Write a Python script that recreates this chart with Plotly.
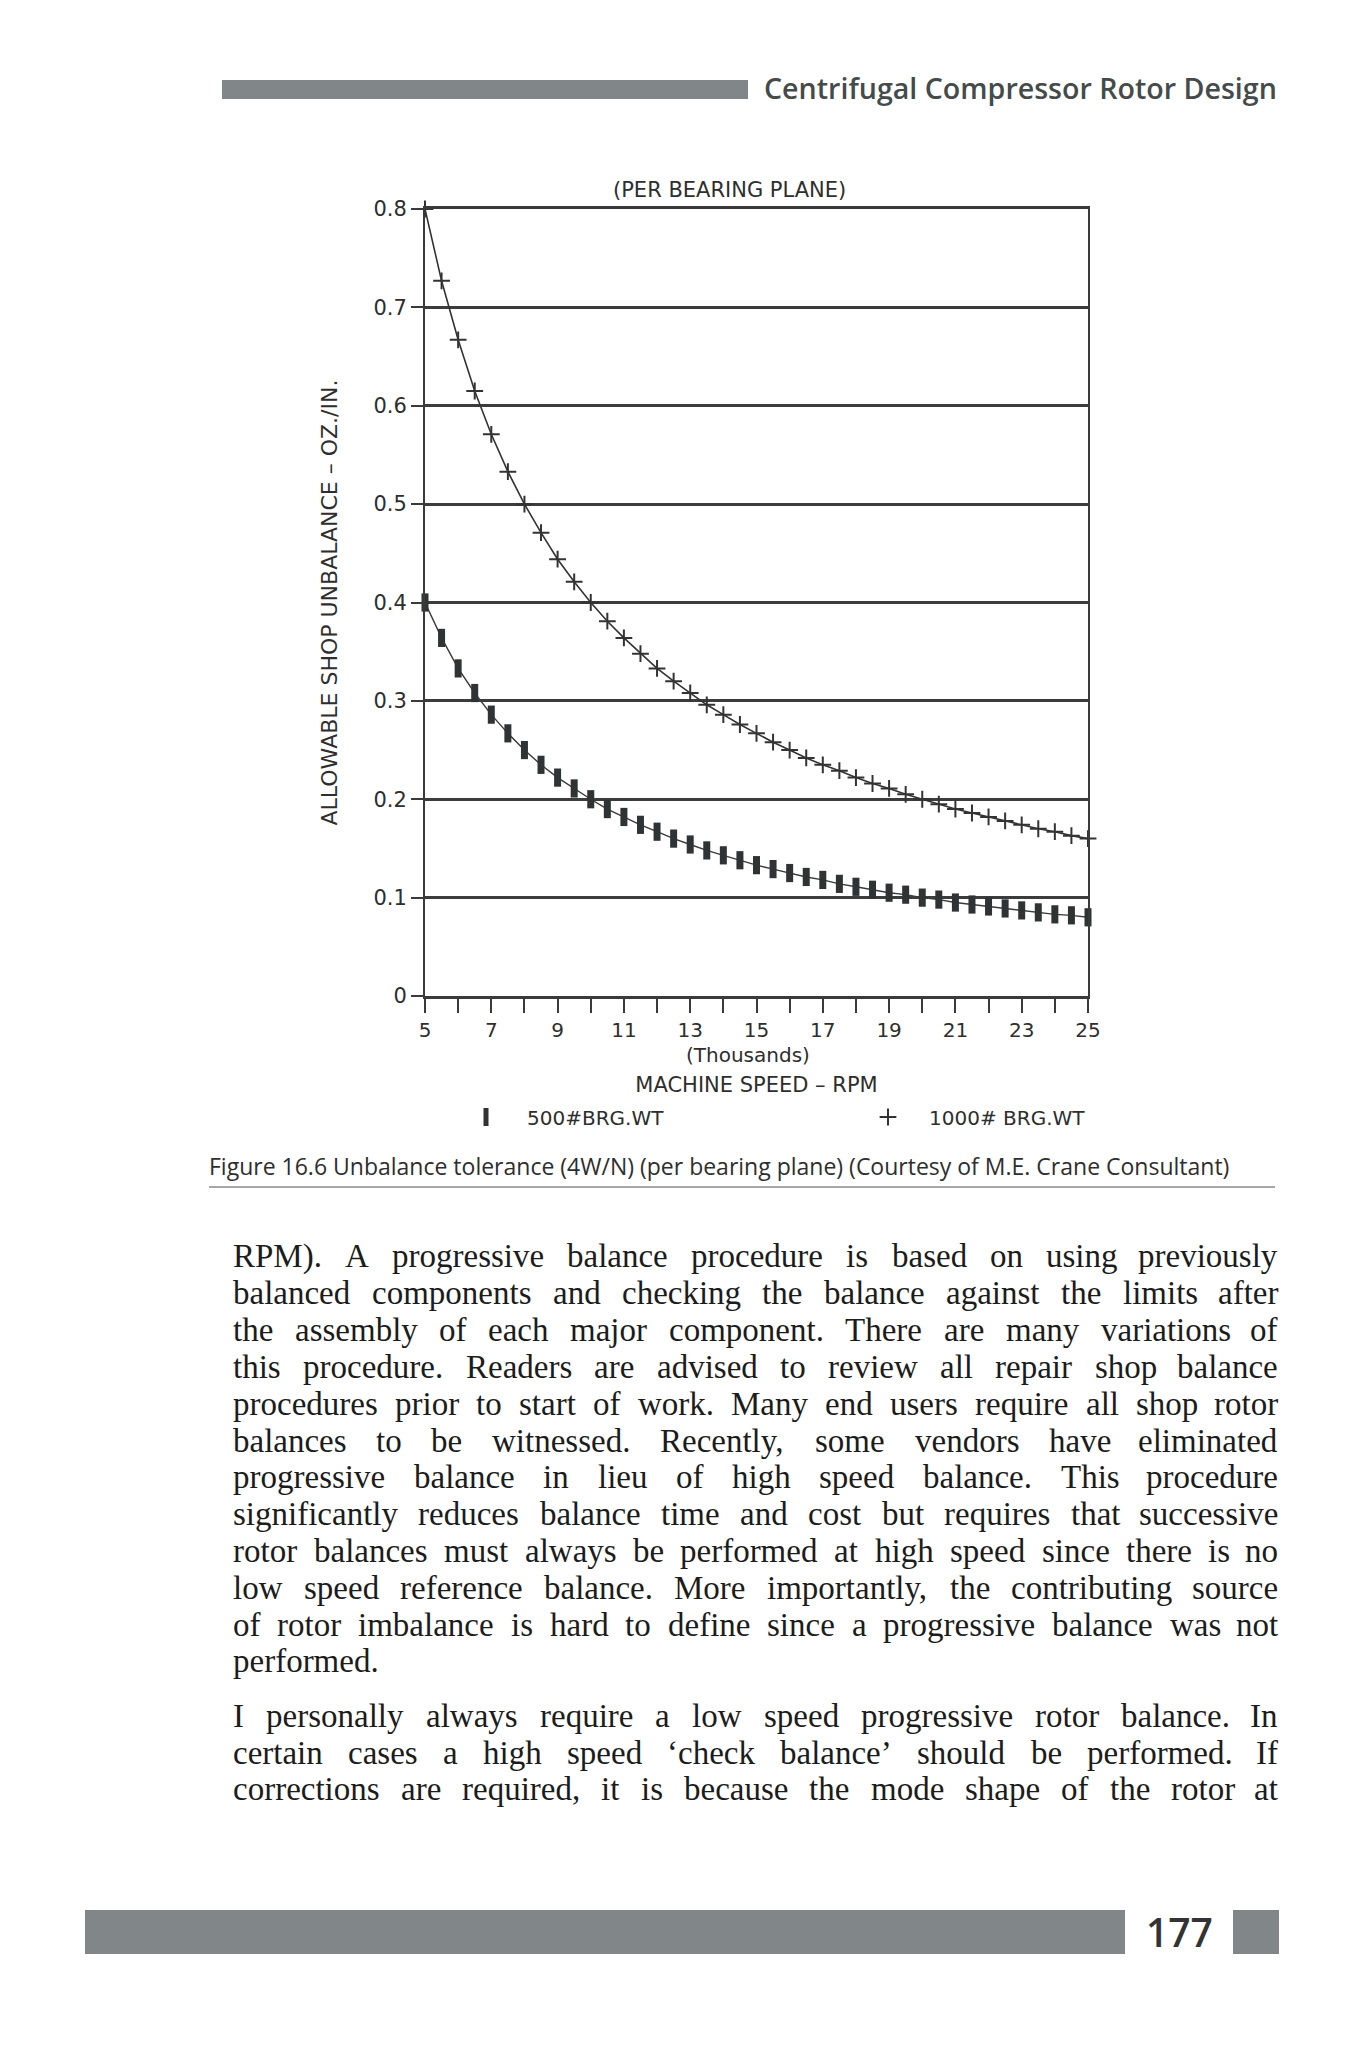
import plotly.graph_objects as go

# ---------------- data ----------------
rpm_thousands = [5.0, 5.5, 6.0, 6.5, 7.0, 7.5, 8.0, 8.5, 9.0, 9.5, 10.0, 10.5, 11.0, 11.5,
                 12.0, 12.5, 13.0, 13.5, 14.0, 14.5, 15.0, 15.5, 16.0, 16.5, 17.0, 17.5,
                 18.0, 18.5, 19.0, 19.5, 20.0, 20.5, 21.0, 21.5, 22.0, 22.5, 23.0, 23.5,
                 24.0, 24.5, 25.0]
unbal_500 = [0.400, 0.364, 0.333, 0.308, 0.286, 0.267, 0.250, 0.235, 0.222, 0.211, 0.200,
             0.190, 0.182, 0.174, 0.167, 0.160, 0.154, 0.148, 0.143, 0.138, 0.133, 0.129,
             0.125, 0.121, 0.118, 0.114, 0.111, 0.108, 0.105, 0.103, 0.100, 0.098, 0.095,
             0.093, 0.091, 0.089, 0.087, 0.085, 0.083, 0.082, 0.080]
unbal_1000 = [0.800, 0.727, 0.667, 0.615, 0.571, 0.533, 0.500, 0.471, 0.444, 0.421, 0.400,
              0.381, 0.364, 0.348, 0.333, 0.320, 0.308, 0.296, 0.286, 0.276, 0.267, 0.258,
              0.250, 0.242, 0.235, 0.229, 0.222, 0.216, 0.211, 0.205, 0.200, 0.195, 0.190,
              0.186, 0.182, 0.178, 0.174, 0.170, 0.167, 0.163, 0.160]
series_names = ["500#BRG.WT", "1000# BRG.WT"]
x_major_ticks = [5, 7, 9, 11, 13, 15, 17, 19, 21, 23, 25]
x_minor_ticks = [6, 8, 10, 12, 14, 16, 18, 20, 22, 24]
y_ticks = [0, 0.1, 0.2, 0.3, 0.4, 0.5, 0.6, 0.7, 0.8]
y_ticktext = ["0", "0.1", "0.2", "0.3", "0.4", "0.5", "0.6", "0.7", "0.8"]

header_title = "Centrifugal Compressor Rotor Design"
chart_subtitle = "(PER BEARING PLANE)"
x_units = "(Thousands)"
x_title = "MACHINE SPEED – RPM"
y_title = "ALLOWABLE SHOP UNBALANCE – OZ./IN."
caption = "Figure 16.6 Unbalance tolerance (4W/N) (per bearing plane) (Courtesy of M.E. Crane Consultant)"
page_number = "177"
paragraphs = [
    ["RPM). A progressive balance procedure is based on using previously",
     "balanced components and checking the balance against the limits after",
     "the assembly of each major component. There are many variations of",
     "this procedure. Readers are advised to review all repair shop balance",
     "procedures prior to start of work. Many end users require all shop rotor",
     "balances to be witnessed. Recently, some vendors have eliminated",
     "progressive balance in lieu of high speed balance. This procedure",
     "significantly reduces balance time and cost but requires that successive",
     "rotor balances must always be performed at high speed since there is no",
     "low speed reference balance. More importantly, the contributing source",
     "of rotor imbalance is hard to define since a progressive balance was not",
     "performed."],
    ["I personally always require a low speed progressive rotor balance. In",
     "certain cases a high speed ‘check balance’ should be performed. If",
     "corrections are required, it is because the mode shape of the rotor at"],
]

# ---------------- page geometry helpers (page pixel coords) ----------------
BODY = 8                      # default <body> margin of the html page
W, H = 1350 - 2 * BODY, 2048 - 2 * BODY
L, R, T, B = 425, 1088, 209, 996   # plot area in page pixels


def px2x(px):
    return (px - L) / (R - L)


def px2y(py):
    return (B - py) / (B - T)


DARK = "#2e2e2e"
LINE = "#3a3a3a"
BARGREY = "#818788"
CHART_FONT = "DejaVu Sans, Verdana, sans-serif"
PAGE_FONT = "Open Sans, Noto Sans, sans-serif"
SERIF = "Liberation Serif, Times New Roman, serif"

fig = go.Figure()

m500 = dict(symbol="line-ns", size=13, color="#2a2a2a", line=dict(width=7, color="#2f3333"))
m1000 = dict(symbol="cross-thin", size=12, color="#2a2a2a", line=dict(width=2, color="#333333"))

fig.add_trace(go.Scatter(x=rpm_thousands, y=unbal_500, mode="lines+markers",
                         line=dict(color="#3a3a3a", width=1.4), marker=m500,
                         showlegend=False, cliponaxis=False, name=series_names[0]))
fig.add_trace(go.Scatter(x=rpm_thousands, y=unbal_1000, mode="lines+markers",
                         line=dict(color="#333333", width=1.6), marker=m1000,
                         showlegend=False, cliponaxis=False, name=series_names[1]))
# legend-only entries (symbol without line, as in the original)
fig.add_trace(go.Scatter(x=[None], y=[None], mode="markers", marker=m500, name=series_names[0]))
fig.add_trace(go.Scatter(x=[None], y=[None], mode="markers", marker=m1000, name=series_names[1]))

shapes = []
annotations = []

# header bar + running title
shapes.append(dict(type="rect", xref="paper", yref="paper", x0=px2x(222), x1=px2x(748),
                   y0=px2y(99), y1=px2y(80), fillcolor=BARGREY, line=dict(width=0), layer="below"))
annotations.append(dict(text=header_title, xref="paper", yref="paper", x=px2x(1279), y=px2y(88),
                        xanchor="right", yanchor="middle", showarrow=False,
                        font=dict(family=PAGE_FONT, size=28.6, color="#454a4a", weight=600)))

# chart subtitle
annotations.append(dict(text=chart_subtitle, xref="paper", yref="paper", x=px2x(729), y=px2y(190),
                        xanchor="center", yanchor="middle", showarrow=False,
                        font=dict(family=CHART_FONT, size=21, color=DARK)))

# "(Thousands)" unit line above the x-axis title
annotations.append(dict(text=x_units, xref="paper", yref="paper", x=px2x(748), y=px2y(1055),
                        xanchor="center", yanchor="middle", showarrow=False,
                        font=dict(family=CHART_FONT, size=20, color=DARK)))

# caption + rule
annotations.append(dict(text=caption, xref="paper", yref="paper", x=px2x(207), y=px2y(1166),
                        xanchor="left", yanchor="middle", showarrow=False,
                        font=dict(family=PAGE_FONT, size=23, color=DARK)))
shapes.append(dict(type="line", xref="paper", yref="paper", x0=px2x(209), x1=px2x(1275),
                   y0=px2y(1187), y1=px2y(1187), line=dict(color="#8a8a8a", width=1.5)))

# body text, justified word by word
TW = {' ': 250, 'a': 444, 'b': 500, 'c': 444, 'd': 500, 'e': 444, 'f': 333, 'g': 500, 'h': 500,
      'i': 278, 'j': 278, 'k': 500, 'l': 278, 'm': 778, 'n': 500, 'o': 500, 'p': 500, 'q': 500,
      'r': 333, 's': 389, 't': 278, 'u': 500, 'v': 500, 'w': 722, 'x': 500, 'y': 500, 'z': 444,
      'A': 722, 'I': 333, 'M': 889, 'P': 556, 'R': 667, 'T': 611, '.': 250, ',': 250,
      ')': 333, '(': 333, '‘': 333, '’': 333}


def em_width(s):
    return sum(TW.get(c, 500) for c in s) / 1000.0


TEXT_L, TEXT_R = 232, 1279
TEXT_W = TEXT_R - TEXT_L
line_ys = [[1256, 1293, 1330, 1367, 1404, 1441, 1477, 1514, 1551, 1588, 1625, 1661],
           [1716, 1753, 1789]]
justify_flags = [[True] * 11 + [False], [True, True, True]]

body_size = 33
for para in paragraphs:
    for ln in para:
        words = ln.split()
        need = sum(em_width(w) for w in words) + 0.15 * (len(words) - 1)
        body_size = min(body_size, TEXT_W / need)

for para, ys, flags in zip(paragraphs, line_ys, justify_flags):
    for ln, yy, just in zip(para, ys, flags):
        words = ln.split()
        widths = [em_width(w) * body_size for w in words]
        if just and len(words) > 1:
            gap = (TEXT_W - sum(widths)) / (len(words) - 1)
        else:
            gap = 0.25 * body_size
        xx = TEXT_L
        for i, (w, wd) in enumerate(zip(words, widths)):
            last = just and i == len(words) - 1
            annotations.append(dict(text=w, xref="paper", yref="paper",
                                    x=px2x(TEXT_R if last else xx), y=px2y(yy),
                                    xanchor="right" if last else "left", yanchor="middle",
                                    showarrow=False, borderpad=0,
                                    font=dict(family=SERIF, size=body_size, color="#1c1c1c")))
            xx += wd + gap

# footer bar with page number
shapes.append(dict(type="rect", xref="paper", yref="paper", x0=px2x(85), x1=px2x(1125),
                   y0=px2y(1954), y1=px2y(1910), fillcolor=BARGREY, line=dict(width=0), layer="below"))
shapes.append(dict(type="rect", xref="paper", yref="paper", x0=px2x(1233), x1=px2x(1279),
                   y0=px2y(1954), y1=px2y(1910), fillcolor=BARGREY, line=dict(width=0), layer="below"))
annotations.append(dict(text=page_number, xref="paper", yref="paper", x=px2x(1179), y=px2y(1931),
                        xanchor="center", yanchor="middle", showarrow=False,
                        font=dict(family=PAGE_FONT, size=39, color="#333333", weight=600)))

fig.update_layout(
    width=W, height=H, autosize=False,
    margin=dict(l=L - BODY, r=W - (R - BODY), t=T - BODY, b=H - (B - BODY), pad=0),
    paper_bgcolor="white", plot_bgcolor="white",
    font=dict(family=CHART_FONT, color=DARK),
    shapes=shapes, annotations=annotations,
    legend=dict(orientation="h", x=px2x(419), y=px2y(1117), xanchor="left", yanchor="middle",
                indentation=26,
                font=dict(family=CHART_FONT, size=20, color=DARK), itemwidth=72, entrywidth=289,
                entrywidthmode="pixels", bgcolor="rgba(0,0,0,0)", itemclick=False),
    xaxis=dict(range=[5, 25], tickvals=x_major_ticks, ticks="outside", ticklen=14, tickwidth=2,
               tickcolor=LINE, showgrid=False, zeroline=False, showline=True, linewidth=2.5,
               linecolor=LINE, mirror=True, tickfont=dict(size=20, color=DARK),
               ticklabelstandoff=0,
               minor=dict(tickvals=x_minor_ticks, ticks="outside", ticklen=14, tickwidth=2,
                          tickcolor=LINE, showgrid=False),
               title=dict(text=x_title, font=dict(size=21, color=DARK), standoff=37)),
    yaxis=dict(range=[0, 0.8], tickvals=y_ticks, ticktext=y_ticktext, ticks="outside", ticklen=12,
               tickwidth=2, tickcolor=LINE, showgrid=True, gridcolor="#3c3c3c", gridwidth=2.5,
               zeroline=False, showline=True, linewidth=2, linecolor=LINE, mirror=True,
               tickfont=dict(size=21, color=DARK),
               title=dict(text=y_title, font=dict(size=22, color=DARK), standoff=30)),
)

fig.write_html("out.html")
